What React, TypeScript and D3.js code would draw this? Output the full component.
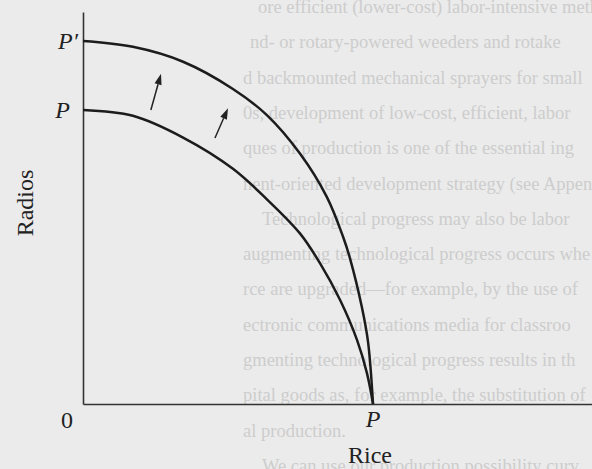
import React from "react";
import * as d3 from "d3";

// production possibility curves (rice on x, radios on y)
const outerRice = [0, 17.2, 34.5, 51.7, 63.4, 74.8, 84.1, 89.7, 92.1, 96.2, 98.3, 100];
const outerRadios = [100, 98.4, 94.3, 86.8, 79.6, 69.0, 57.0, 46.0, 40.0, 26.5, 17.0, 0];
const innerRice = [0, 17.2, 34.5, 51.7, 63.4, 74.8, 81.7, 88.6, 94.5, 97.9, 100];
const innerRadios = [81, 79.4, 73.4, 64.8, 56.4, 47.0, 38.8, 28.7, 17.6, 8.5, 0];

// shift arrows: [riceFrom, radiosFrom, riceTo, radiosTo]
const arrows = [
  [23.4, 81.0, 26.9, 91.0],
  [45.5, 73.3, 50.0, 81.5],
];

// page text showing through the scan
const pageText = [
  "ore efficient (lower-cost) labor-intensive meth",
  "nd- or rotary-powered weeders and rotake",
  "d backmounted mechanical sprayers for small",
  "0s, development of low-cost, efficient, labor",
  "ques of production is one of the essential ing",
  "nent-oriented development strategy (see Appen",
  "Technological progress may also be labor",
  "augmenting technological progress occurs whe",
  "rce are upgraded\u2014for example, by the use of",
  "ectronic communications media for classroo",
  "gmenting technological progress results in th",
  "pital goods as, for example, the substitution of",
  "al production.",
  "We can use our production possibility curv",
];

const W = 592;
const H = 469;
const serif = "'Liberation Serif', 'Times New Roman', serif";

export default function App() {
  const x = d3.scaleLinear().domain([0, 175.5]).range([83, 592]);
  const y = d3.scaleLinear().domain([0, 108]).range([404, 12]);

  const line = d3
    .line<[number, number]>()
    .x(d => x(d[0]))
    .y(d => y(d[1]))
    .curve(d3.curveCatmullRom.alpha(0.5));

  const outer = line(outerRice.map((r, i) => [r, outerRadios[i]]));
  const inner = line(innerRice.map((r, i) => [r, innerRadios[i]]));

  const xAxisRef = (node: SVGGElement | null) => {
    if (!node) return;
    d3.select(node).call(d3.axisBottom(x).ticks(0).tickSize(0).tickSizeOuter(0));
    d3.select(node).select(".domain").attr("stroke", "#333").attr("stroke-width", 1.6);
  };
  const yAxisRef = (node: SVGGElement | null) => {
    if (!node) return;
    d3.select(node).call(d3.axisLeft(y).ticks(0).tickSize(0).tickSizeOuter(0));
    d3.select(node).select(".domain").attr("stroke", "#333").attr("stroke-width", 1.6);
  };

  const indent = [258, 250, 243, 243, 243, 243, 262, 243, 243, 243, 243, 243, 243, 262];

  return (
    <svg
      width={W}
      height={H}
      style={{ position: "absolute", left: 0, top: 0 }}
      fontFamily={serif}
    >
      <rect width={W} height={H} fill="#ebebeb" />
      <g fill="#cdcdcd" fontSize={18.5}>
        {pageText.map((t, i) => (
          <text key={i} x={indent[i]} y={13 + 35.3 * i}>
            {t}
          </text>
        ))}
      </g>

      <g ref={xAxisRef} transform={`translate(0,${y(0)})`} />
      <g ref={yAxisRef} transform={`translate(${x(0)},0)`} />

      <path d={outer ?? ""} fill="none" stroke="#1c1c1c" strokeWidth={2.5} />
      <path d={inner ?? ""} fill="none" stroke="#1c1c1c" strokeWidth={2.5} />

      {arrows.map((a, i) => {
        const x1 = x(a[0]), y1 = y(a[1]), x2 = x(a[2]), y2 = y(a[3]);
        const ang = Math.atan2(y2 - y1, x2 - x1);
        const len = 11, hw = 3.6;
        const bx = x2 - len * Math.cos(ang), by = y2 - len * Math.sin(ang);
        const px = -Math.sin(ang) * hw, py = Math.cos(ang) * hw;
        return (
          <g key={i}>
            <line x1={x1} y1={y1} x2={bx} y2={by} stroke="#222" strokeWidth={1.5} />
            <path
              d={`M${x2},${y2}L${bx + px},${by + py}L${bx - px},${by - py}Z`}
              fill="#222"
            />
          </g>
        );
      })}

      <g fill="#222" fontSize={24}>
        <text x={78} y={y(100) + 8} textAnchor="end" fontStyle="italic">
          P′
        </text>
        <text x={70} y={y(81) + 8} textAnchor="end" fontStyle="italic">
          P
        </text>
        <text x={67} y={428} textAnchor="middle">
          0
        </text>
        <text x={x(100)} y={427} textAnchor="middle" fontStyle="italic">
          P
        </text>
        <text x={370} y={463} textAnchor="middle">
          Rice
        </text>
        <text transform="translate(33,203) rotate(-90)" textAnchor="middle">
          Radios
        </text>
      </g>
    </svg>
  );
}
